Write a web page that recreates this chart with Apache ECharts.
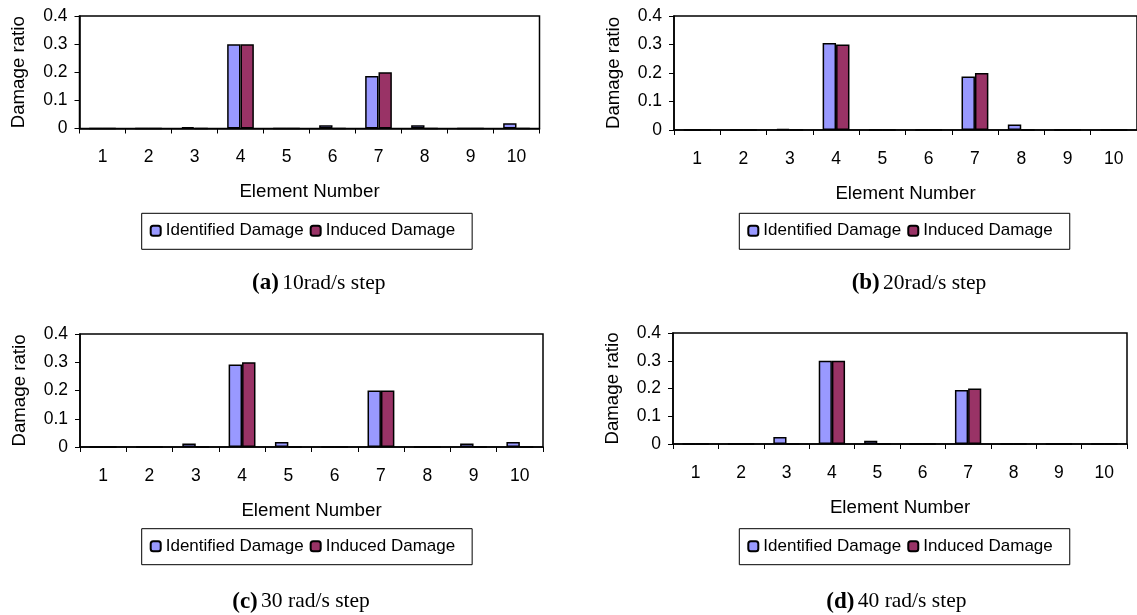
<!DOCTYPE html>
<html>
<head>
<meta charset="utf-8">
<title>Damage ratio</title>
<script src="https://cdn.jsdelivr.net/npm/echarts/dist/echarts.min.js"></script>
<style>
  html, body { margin: 0; padding: 0; background: #fff; }
  #main { width: 1137px; height: 615px; }
</style>
</head>
<body>
<div id="main"></div>
<script>
// data
let elements = ['1', '2', '3', '4', '5', '6', '7', '8', '9', '10'];
let seriesNames = ['Identified Damage', 'Induced Damage'];
let yTicks = [0, 0.1, 0.2, 0.3, 0.4];

let identifiedA = [0, 0, 0.005, 0.3, 0, 0.012, 0.187, 0.012, 0, 0.019];
let identifiedB = [0, 0, 0.004, 0.305, 0, 0, 0.188, 0.019, 0, 0];
let identifiedC = [0, 0, 0.012, 0.292, 0.018, 0, 0.2, 0, 0.012, 0.018];
let identifiedD = [0, 0, 0.025, 0.3, 0.012, 0, 0.195, 0, 0, 0];
let induced = [0, 0, 0, 0.3, 0, 0, 0.2, 0, 0, 0];

let captionTag = ['(a)', '(b)', '(c)', '(d)'];
let captionText = ['10rad/s step', '20rad/s step', '30 rad/s step', '40 rad/s step'];

let identifiedAll = [identifiedA, identifiedB, identifiedC, identifiedD];

// layout of the four panels
let grids = [
    { left: 79.5, top: 16, width: 460, height: 112.5 },
    { left: 674, top: 16, width: 466, height: 114 },
    { left: 80, top: 334, width: 463, height: 113 },
    { left: 673, top: 333, width: 454, height: 111 }
];
let legendPos = [[141.7, 213.3], [739.3, 213.3], [141.7, 528.7], [739.3, 528.7]];
let captionPos = [[318.7, 283], [919, 283.3], [301, 601.7], [896.4, 601.7]];

let sans = '"Liberation Sans", Arial, sans-serif';
let serif = '"Liberation Serif", "Times New Roman", serif';
let colors = ['#9999ff', '#993366'];

let option = {
    backgroundColor: '#fff',
    animation: false,
    textStyle: { fontFamily: sans, color: '#000' },
    grid: [],
    xAxis: [],
    yAxis: [],
    legend: [],
    series: [],
    graphic: []
};

for (let i = 0; i < 4; i++) {
    option.grid.push(Object.assign({
        show: true,
        borderColor: '#000',
        borderWidth: 1.5,
        backgroundColor: 'transparent'
    }, grids[i]));

    option.xAxis.push({
        type: 'category',
        gridIndex: i,
        data: elements,
        boundaryGap: true,
        name: 'Element Number',
        nameLocation: 'middle',
        nameGap: 54,
        nameTextStyle: { fontSize: 18.7, color: '#000', fontFamily: sans },
        axisLine: { lineStyle: { color: '#000', width: 1.5 } },
        axisTick: { show: true, length: 5, lineStyle: { color: '#000', width: 1 } },
        axisLabel: { fontSize: 17.5, color: '#000', margin: 20, fontFamily: sans },
        splitLine: { show: false }
    });

    option.yAxis.push({
        type: 'value',
        gridIndex: i,
        min: yTicks[0],
        max: yTicks[yTicks.length - 1],
        interval: 0.1,
        name: 'Damage ratio',
        nameLocation: 'middle',
        nameRotate: 90,
        nameGap: 51,
        nameTextStyle: { fontSize: 18.7, color: '#000', fontFamily: sans },
        axisLine: { show: true, lineStyle: { color: '#000', width: 1.5 } },
        axisTick: { show: true, length: 5, lineStyle: { color: '#000', width: 1 } },
        axisLabel: { fontSize: 17.5, color: '#000', margin: 12, fontFamily: sans },
        splitLine: { show: false }
    });

    option.legend.push({
        data: seriesNames,
        left: legendPos[i][0],
        top: legendPos[i][1],
        orient: 'horizontal',
        padding: [9, 17, 10, 8],
        itemGap: 6,
        itemWidth: 10,
        itemHeight: 10,
        borderColor: '#000',
        borderWidth: 1,
        backgroundColor: '#fff',
        textStyle: { fontSize: 17, color: '#000', fontFamily: sans },
        selectedMode: false
    });

    let values = [identifiedAll[i], induced];
    for (let s = 0; s < 2; s++) {
        option.series.push({
            name: seriesNames[s],
            type: 'bar',
            xAxisIndex: i,
            yAxisIndex: i,
            data: values[s],
            barGap: '0%',
            barCategoryGap: '42%',
            itemStyle: { color: colors[s], borderColor: '#000', borderWidth: 1.5 }
        });
    }

    option.graphic.push({
        type: 'text',
        x: captionPos[i][0],
        y: captionPos[i][1],
        style: {
            text: '{b|' + captionTag[i] + '} {n|' + captionText[i] + '}',
            align: 'center',
            verticalAlign: 'middle',
            rich: {
                b: { fontFamily: serif, fontWeight: 'bold', fontSize: 23, fill: '#000' },
                n: { fontFamily: serif, fontSize: 21.5, fill: '#000' }
            }
        }
    });
}

var myChart = echarts.init(document.getElementById('main'));
myChart.setOption(option);
</script>
</body>
</html>
